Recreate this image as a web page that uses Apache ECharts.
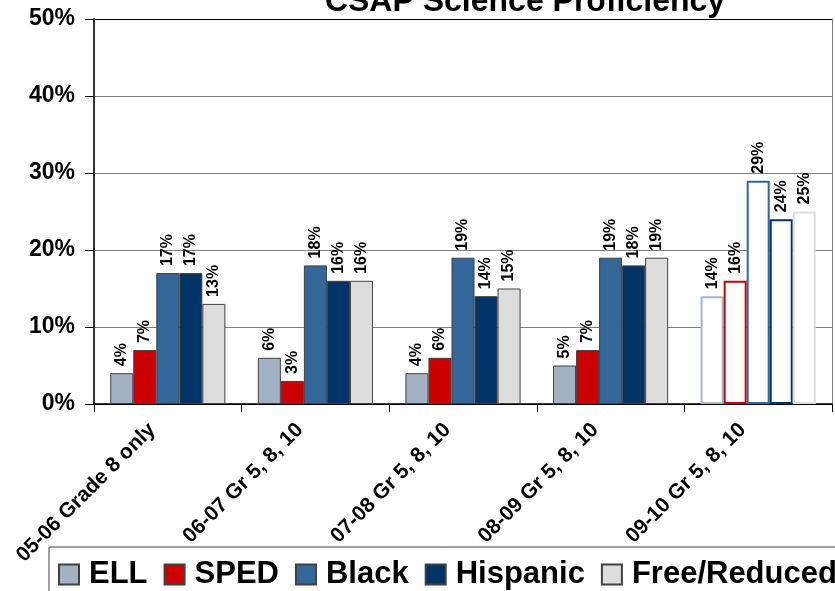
<!DOCTYPE html>
<html>
<head>
<meta charset="utf-8">
<script src="https://cdn.jsdelivr.net/npm/echarts@6/dist/echarts.min.js"></script>
<style>
html,body{margin:0;padding:0;background:#fff;}
#chart{width:835px;height:591px;}
</style>
</head>
<body>
<div id="chart"></div>
<script>
var categories = ['05-06 Grade 8 only', '06-07 Gr 5, 8, 10', '07-08 Gr 5, 8, 10', '08-09 Gr 5, 8, 10', '09-10 Gr 5, 8, 10'];
var seriesNames = ['ELL', 'SPED', 'Black', 'Hispanic', 'Free/Reduced'];
var ell = [4, 6, 4, 5, 14];
var sped = [7, 3, 6, 7, 16];
var black = [17, 18, 19, 19, 29];
var hispanic = [17, 16, 14, 18, 24];
var freeReduced = [13, 16, 15, 19, 25];
var hollowIndex = 4; // last group drawn as outlined bars

var colors = ['#A3B2C3', '#CC0000', '#336699', '#003366', '#DDDDDD'];
var outlineColors = ['#A9B8C8', '#CC0000', '#336699', '#003366', '#DDDDDD'];
var values = [ell, sped, black, hispanic, freeReduced];

var FONT = '"Liberation Sans", Arial, sans-serif';

var series = seriesNames.map(function (name, si) {
  return {
    name: name,
    type: 'bar',
    barGap: '0%',
    barCategoryGap: '22%',
    itemStyle: { color: colors[si], borderColor: '#404040', borderWidth: 1 },
    label: {
      show: true,
      position: 'top',
      rotate: 90,
      align: 'left',
      verticalAlign: 'middle',
      distance: 7,
      formatter: '{c}%',
      fontFamily: FONT,
      fontWeight: 'bold',
      fontSize: 16,
      color: '#000'
    },
    data: values[si].map(function (v, i) {
      if (i === hollowIndex) {
        return { value: v, itemStyle: { color: '#fff', borderColor: outlineColors[si], borderWidth: 2 } };
      }
      return v;
    })
  };
});

var chart = echarts.init(document.getElementById('chart'), null, { renderer: 'canvas' });
chart.setOption({
  animation: false,
  backgroundColor: '#fff',
  title: {
    text: 'CSAP Science Proficiency',
    left: 520,
    top: -19,
    textAlign: 'center',
    textStyle: { fontFamily: FONT, fontWeight: 'bold', fontSize: 32, color: '#000' }
  },
  legend: {
    data: seriesNames,
    left: 49,
    top: 547,
    width: 820,
    orient: 'horizontal',
    padding: [12, 30, 12, 9],
    borderColor: '#404040',
    borderWidth: 1,
    itemWidth: 20,
    itemHeight: 20,
    itemGap: 16,
    icon: 'rect',
    textStyle: { fontFamily: FONT, fontWeight: 'bold', fontSize: 31, color: '#000', padding: [0, 0, 0, 5] }
  },
  grid: { left: 94, right: 3, top: 19, bottom: 187, containLabel: false },
  xAxis: {
    type: 'category',
    data: categories,
    axisLine: { lineStyle: { color: '#000', width: 1.5 } },
    axisTick: { show: true, length: 8, lineStyle: { color: '#000' } },
    axisLabel: {
      rotate: 45,
      interval: 0,
      margin: 7,
      padding: [0, 22, 0, 0],
      fontFamily: FONT,
      fontWeight: 'bold',
      fontSize: 21,
      color: '#000'
    }
  },
  yAxis: [{
    type: 'value',
    min: 0,
    max: 50,
    interval: 10,
    axisLine: { show: true, lineStyle: { color: '#333', width: 2 } },
    axisTick: { show: true, inside: false, length: 9, lineStyle: { color: '#000' } },
    axisLabel: {
      formatter: '{value}%',
      margin: 19,
      fontFamily: FONT,
      fontWeight: 'bold',
      fontSize: 23,
      color: '#000'
    },
    splitLine: { show: true, lineStyle: { color: ['#000', '#808080', '#808080', '#808080', '#808080', '#000'], width: 1 } }
  }, {
    type: 'value',
    position: 'right',
    min: 0,
    max: 50,
    interval: 10,
    axisLine: { show: true, lineStyle: { color: '#808080', width: 1 } },
    axisTick: { show: false },
    axisLabel: { show: false },
    splitLine: { show: false }
  }],
  series: series
});
</script>
</body>
</html>
